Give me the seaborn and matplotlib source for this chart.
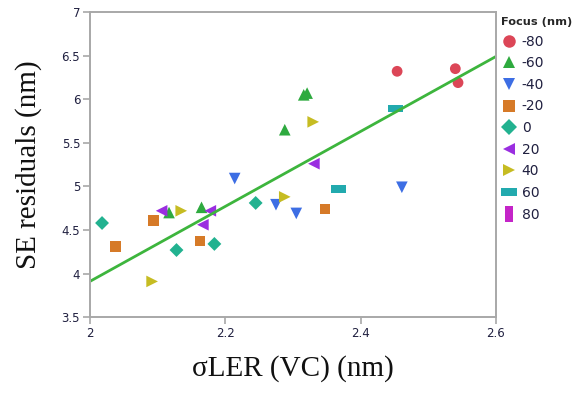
import numpy as np
import pandas as pd
import seaborn as sns
import matplotlib
matplotlib.use("Agg")
import matplotlib.pyplot as plt
from matplotlib.lines import Line2D

# Focus levels and their point values
focus_levels = ["-80", "-60", "-40", "-20", "0", "20", "40", "60", "80"]

sigma_ler = {
    "-80": [2.454, 2.540, 2.544],
    "-60": [2.117, 2.165, 2.288, 2.316, 2.321],
    "-40": [2.214, 2.275, 2.305, 2.461],
    "-20": [2.038, 2.094, 2.163, 2.347],
    "0":   [2.018, 2.128, 2.184, 2.245],
    "20":  [2.106, 2.167, 2.178, 2.331],
    "40":  [2.092, 2.135, 2.288, 2.330],
    "60":  [2.367, 2.452],
    "80":  [],
}
se_resid = {
    "-80": [6.32, 6.35, 6.19],
    "-60": [4.70, 4.76, 5.65, 6.05, 6.07],
    "-40": [5.09, 4.79, 4.69, 4.99],
    "-20": [4.31, 4.61, 4.37, 4.74],
    "0":   [4.58, 4.27, 4.34, 4.81],
    "20":  [4.72, 4.56, 4.72, 5.26],
    "40":  [3.91, 4.72, 4.88, 5.74],
    "60":  [4.97, 5.89],
    "80":  [],
}

# Reported linear fit (across all focus conditions)
fit_slope = 4.30
fit_intercept = -4.69
fit_x_range = [2.0, 2.6]

colors = ["#DC4657", "#2EAA3F", "#3D6EE4", "#D67A28", "#22B290",
          "#9A2EE0", "#C6BC22", "#22AAAE", "#C424C8"]

hbar = [(-1.0, -0.5), (1.0, -0.5), (1.0, 0.5), (-1.0, 0.5)]
vbar = [(-0.5, -1.0), (0.5, -1.0), (0.5, 1.0), (-0.5, 1.0)]
markers = ["o", "^", "v", "s", "D", "<", ">", hbar, vbar]
sizes = [60, 70, 70, 55, 50, 70, 70, 110, 110]

rows = []
for f in focus_levels:
    for x, y in zip(sigma_ler[f], se_resid[f]):
        rows.append({"sigma": x, "resid": y, "focus": f})
df = pd.DataFrame(rows)

fit_x = np.array(fit_x_range)
fit_df = pd.DataFrame({"sigma": fit_x, "resid": fit_intercept + fit_slope * fit_x})

sns.set_theme(style="white")
plt.rcParams["font.family"] = ["DejaVu Sans"]

fig = plt.figure(figsize=(5.76, 3.94), dpi=100)
ax = fig.add_axes([0.156, 0.195, 0.705, 0.7745])

palette = dict(zip(focus_levels, colors))
marker_map = dict(zip(focus_levels, markers))
size_map = dict(zip(focus_levels, sizes))
present = [f for f in focus_levels if len(sigma_ler[f])]

sns.lineplot(data=fit_df, x="sigma", y="resid", color="#3DB53D", lw=2.0,
             ax=ax)

for f in present:
    sub = df[df["focus"] == f]
    sns.scatterplot(data=sub, x="sigma", y="resid", color=palette[f],
                    marker=marker_map[f], s=size_map[f],
                    edgecolor="none", linewidth=0, legend=False, ax=ax)

ax.set_xlim(2.0, 2.6)
ax.set_ylim(3.5, 7.0)
ax.set_xticks([2.0, 2.2, 2.4, 2.6])
ax.set_xticklabels(["2", "2.2", "2.4", "2.6"])
ax.set_yticks([3.5, 4, 4.5, 5, 5.5, 6, 6.5, 7])
ax.set_yticklabels(["3.5", "4", "4.5", "5", "5.5", "6", "6.5", "7"])
ax.tick_params(axis="both", direction="out", length=5, width=1.2,
               color="#A8A8A8", labelsize=8.5, labelcolor="#202040", pad=2)
ax.tick_params(bottom=True, left=True)
for sp in ax.spines.values():
    sp.set_color("#A8A8A8")
    sp.set_linewidth(1.4)

serif = ["Liberation Serif", "DejaVu Serif"]
ax.set_xlabel("σLER (VC) (nm)", family=serif, fontsize=21, color="#111111",
              labelpad=11)
ax.set_ylabel("SE residuals (nm)", family=serif, fontsize=21, color="#111111",
              labelpad=14)

handles = []
for m, c in zip(markers, colors):
    ms = 11 if m in (hbar, vbar) else (8 if m in ("s", "D") else 9)
    handles.append(Line2D([], [], linestyle="none", marker=m, color=c,
                          markersize=ms, markeredgewidth=0))
leg = ax.legend(handles, focus_levels, title="Focus (nm)",
                loc="upper left", bbox_to_anchor=(1.0, 1.0),
                frameon=False, fontsize=10, title_fontsize=8.2,
                handletextpad=0.3, labelspacing=0.55, borderaxespad=0.15,
                borderpad=0.2, handlelength=1.2)
leg.get_title().set_fontweight("bold")
leg._legend_box.align = "left"
for t in leg.get_texts():
    t.set_color("#202040")

fig.savefig("out.png", dpi=100, facecolor="white")
